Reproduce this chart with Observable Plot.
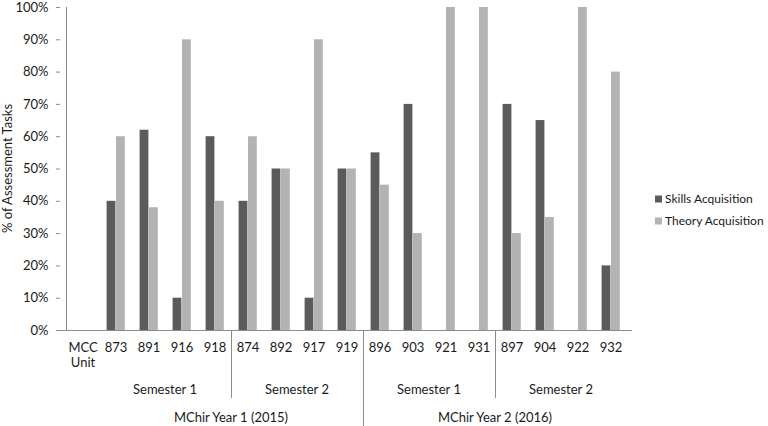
<!DOCTYPE html>
<html><head><meta charset="utf-8">
<script src="https://cdn.jsdelivr.net/npm/d3@7"></script>
<script src="https://cdn.jsdelivr.net/npm/@observablehq/plot@0.6"></script>
<style>body{margin:0;background:#fff;} svg{display:block}</style>
</head><body><div id="chart"></div>
<script>
// ---- data ----
const units = ["MCC Unit","873","891","916","918","874","892","917","919","896","903","921","931","897","904","922","932"];
const skills = [null,40,62,10,60,40,50,10,50,55,70,0,0,70,65,0,20];
const theory = [null,60,38,90,40,60,50,90,50,45,30,100,100,30,35,100,80];
const seriesNames = ["Skills Acquisition","Theory Acquisition"];
const seriesColors = ["#5b5b5b","#b3b3b3"];
const yTicks = [0,0.1,0.2,0.3,0.4,0.5,0.6,0.7,0.8,0.9,1];
const semesterLabels = ["Semester 1","Semester 2","Semester 1","Semester 2"];
const semesterFirst = ["873","874","896","897"];
const semesterLast = ["918","919","931","932"];
const yearLabels = ["MChir Year 1 (2015)","MChir Year 2 (2016)"];
const yearFirst = ["873","896"];
const yearLast = ["919","932"];
const yLabel = "% of Assessment Tasks";

const skillsRows = units.map((u,i)=>({unit:u, value: skills[i]==null?null:skills[i]/100})).filter(d=>d.value!=null);
const theoryRows = units.map((u,i)=>({unit:u, value: theory[i]==null?null:theory[i]/100})).filter(d=>d.value!=null);

const FONT = "Lato, 'Open Sans', sans-serif";
const FS = 13;
const chart = Plot.plot({
  width: 768, height: 426,
  marginLeft: 60, marginRight: 136, marginTop: 7, marginBottom: 96,
  style: {fontFamily: FONT, fontSize: FS + "px", color: "#1a1a1a", background: "#fff"},
  x: {domain: units, padding: 0, axis: null},
  y: {domain: [0,1], ticks: yTicks, tickFormat: d3.format(".0%"), tickSize: 4, tickPadding: 8, label: null},
  marks: [
    Plot.barY(skillsRows, {x: "unit", y: "value", fill: seriesColors[0], insetLeft: 7.6, insetRight: 16.6}),
    Plot.barY(theoryRows, {x: "unit", y: "value", fill: seriesColors[1], insetLeft: 17, insetRight: 7.2}),
    Plot.ruleY([0], {stroke: "#8c8c8c"}),
    Plot.text(units, {x: d=>d, y: () => 0, text: d=>d, lineAnchor: "top", dy: 11, lineWidth: 2.6, lineHeight: 1.15, fill: "#1a1a1a", fontSize: FS})
  ]
});
document.getElementById("chart").appendChild(chart);

const svg = d3.select(chart);
svg.selectAll("g[aria-label='y-axis tick']").attr("stroke", "#8c8c8c");
const xs = chart.scale("x"), ys = chart.scale("y");
const bw = xs.bandwidth;
const left = u => xs.apply(u);
const right = u => xs.apply(u) + bw;
const y0 = ys.apply(0), y1 = ys.apply(1);
const g = svg.append("g").attr("font-family", FONT).attr("fill", "#1a1a1a").attr("font-size", FS);
// y axis line
g.append("line").attr("x1", left(units[0]) + 0.5).attr("x2", left(units[0]) + 0.5)
  .attr("y1", y1).attr("y2", y0).attr("stroke", "#8c8c8c");
// semester separators & labels
semesterLabels.forEach((lab, i) => {
  const a = left(semesterFirst[i]), b = right(semesterLast[i]);
  g.append("text").attr("x", (a+b)/2).attr("y", y0 + 64).attr("text-anchor", "middle").text(lab);
  if (i % 2 === 1) {
    g.append("line").attr("x1", a + 0.5).attr("x2", a + 0.5).attr("y1", y0).attr("y2", y0 + 68).attr("stroke", "#8c8c8c");
  }
});
yearLabels.forEach((lab, i) => {
  const a = left(yearFirst[i]), b = right(yearLast[i]);
  g.append("text").attr("x", (a+b)/2).attr("y", y0 + 92).attr("text-anchor", "middle").text(lab);
  if (i > 0) {
    g.append("line").attr("x1", a + 0.5).attr("x2", a + 0.5).attr("y1", y0).attr("y2", 426).attr("stroke", "#8c8c8c");
  }
});
// y title
g.append("text").attr("transform", `translate(12,${(y0+y1)/2}) rotate(-90)`).attr("text-anchor", "middle").text(yLabel);
// legend
seriesNames.forEach((n, i) => {
  const ly = 199 + i * 22;
  g.append("rect").attr("x", 655).attr("y", ly - 3.5).attr("width", 7).attr("height", 7).attr("fill", seriesColors[i]);
  g.append("text").attr("x", 665).attr("y", ly + 4.3).attr("text-anchor", "start").attr("font-size", 12).text(n);
});
</script>
</body></html>
